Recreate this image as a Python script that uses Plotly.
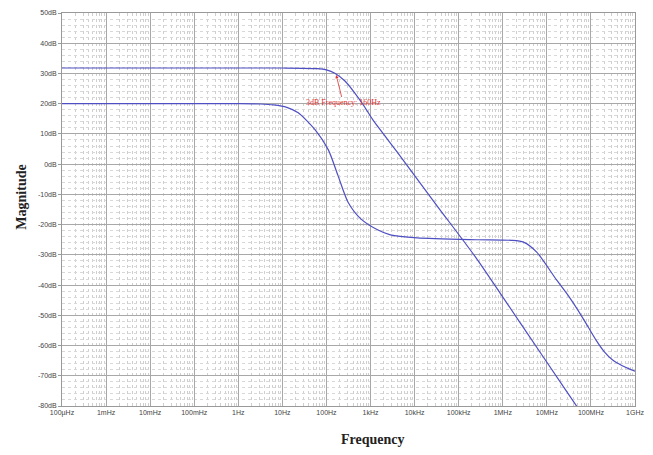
import plotly.graph_objects as go

# ---- data ----
upper_freq = [1e-4, 1e-2, 1e0, 10**1.0, 10**1.8, 10**2.0, 10**2.19, 10**2.42, 10**2.64, 10**2.85,
              10**3.05, 10**3.61, 10**4.5, 10**5.41, 10**6.4, 10**7.44, 10**7.8]
upper_db = [31.8, 31.8, 31.8, 31.8, 31.6, 31.2, 30.1, 27.5, 23.6, 19.3,
            14.7, 3.9, -13.6, -31.3, -52.6, -75.0, -82.7]

lower_freq = [1e-4, 1e-2, 1e0, 10**0.5, 10**0.8, 10**1.1, 10**1.36, 10**1.74, 10**2.04, 10**2.26,
              10**2.49, 10**2.78, 10**3.17, 10**3.45, 10**4.06, 10**5.41, 10**6.2, 10**6.47,
              10**6.77, 10**7.22, 10**7.51, 10**7.82, 10**8.12, 10**8.3, 10**8.5, 10**8.7, 10**8.88, 1e9]
lower_db = [20.0, 20.0, 20.0, 19.9, 19.6, 18.8, 17.0, 11.4, 4.8, -3.7,
            -12.6, -18.1, -21.8, -23.4, -24.4, -25.0, -25.2, -25.8,
            -29.1, -38.3, -44.0, -51.0, -58.3, -62.0, -64.9, -66.6, -67.8, -68.5]

x_tick_vals = [1e-4, 1e-3, 1e-2, 1e-1, 1e0, 1e1, 1e2, 1e3, 1e4, 1e5, 1e6, 1e7, 1e8, 1e9]
x_tick_text = ["100µHz", "1mHz", "10mHz", "100mHz", "1Hz", "10Hz", "100Hz", "1kHz", "10kHz",
               "100kHz", "1MHz", "10MHz", "100MHz", "1GHz"]
y_tick_vals = [50, 40, 30, 20, 10, 0, -10, -20, -30, -40, -50, -60, -70, -80]
y_tick_text = ["50dB", "40dB", "30dB", "20dB", "10dB", "0dB", "-10dB", "-20dB", "-30dB",
               "-40dB", "-50dB", "-60dB", "-70dB", "-80dB"]

annot_logf = 2.22
annot_db = 29.5
annot_text = "3dB Frequency: 160Hz"

line_color = "#4f4fc4"

fig = go.Figure()
fig.add_trace(go.Scatter(x=upper_freq, y=upper_db, mode="lines",
                         line=dict(color=line_color, width=1.2, shape="spline", smoothing=0.7),
                         showlegend=False, hoverinfo="skip"))
fig.add_trace(go.Scatter(x=lower_freq, y=lower_db, mode="lines",
                         line=dict(color=line_color, width=1.2, shape="spline", smoothing=0.7),
                         showlegend=False, hoverinfo="skip"))

fig.add_annotation(x=annot_logf, y=annot_db, xref="x", yref="y", text=annot_text,
                   showarrow=True, arrowhead=2, arrowsize=0.8, arrowwidth=0.8, arrowcolor="#e03030",
                   ax=7, ay=28, font=dict(family="Liberation Serif", size=8, color="#e03030"))

fig.add_annotation(x=0.542, y=-0.086, xref="paper", yref="paper", text="<b>Frequency</b>",
                   showarrow=False, yanchor="middle",
                   font=dict(family="Liberation Serif", size=14, color="#222222"))
fig.add_annotation(x=-0.071, y=0.531, xref="paper", yref="paper", text="<b>Magnitude</b>",
                   showarrow=False, textangle=-90, xanchor="center", yanchor="middle",
                   font=dict(family="Liberation Serif", size=14, color="#222222"))

fig.update_xaxes(type="log", range=[-4, 9], tickvals=x_tick_vals, ticktext=x_tick_text,
                 tickfont=dict(family="Liberation Sans", size=7, color="#444444"),
                 showgrid=True, gridcolor="#a8a8a8", gridwidth=0.8,
                 minor=dict(dtick="D1", showgrid=True, gridcolor="#cfcfcf", griddash="dot", gridwidth=0.8),
                 showline=True, linecolor="#999999", linewidth=1, mirror=True,
                 ticks="", zeroline=False)
fig.update_yaxes(range=[-80, 50], tickvals=y_tick_vals, ticktext=y_tick_text,
                 tickfont=dict(family="Liberation Sans", size=7, color="#444444"),
                 showgrid=True, gridcolor="#a8a8a8", gridwidth=0.8,
                 minor=dict(dtick=2, showgrid=True, gridcolor="#d8d8d8", griddash="dot", gridwidth=0.8),
                 showline=True, linecolor="#999999", linewidth=1, mirror=True,
                 ticks="outside", ticklen=3, tickcolor="#999999", zeroline=False)

fig.update_layout(width=653, height=455, margin=dict(l=62, r=14, t=9, b=49),
                  paper_bgcolor="white", plot_bgcolor="white")

fig.write_html("out.html", config={"displayModeBar": False},
               post_script="document.body.style.margin='0px';")
